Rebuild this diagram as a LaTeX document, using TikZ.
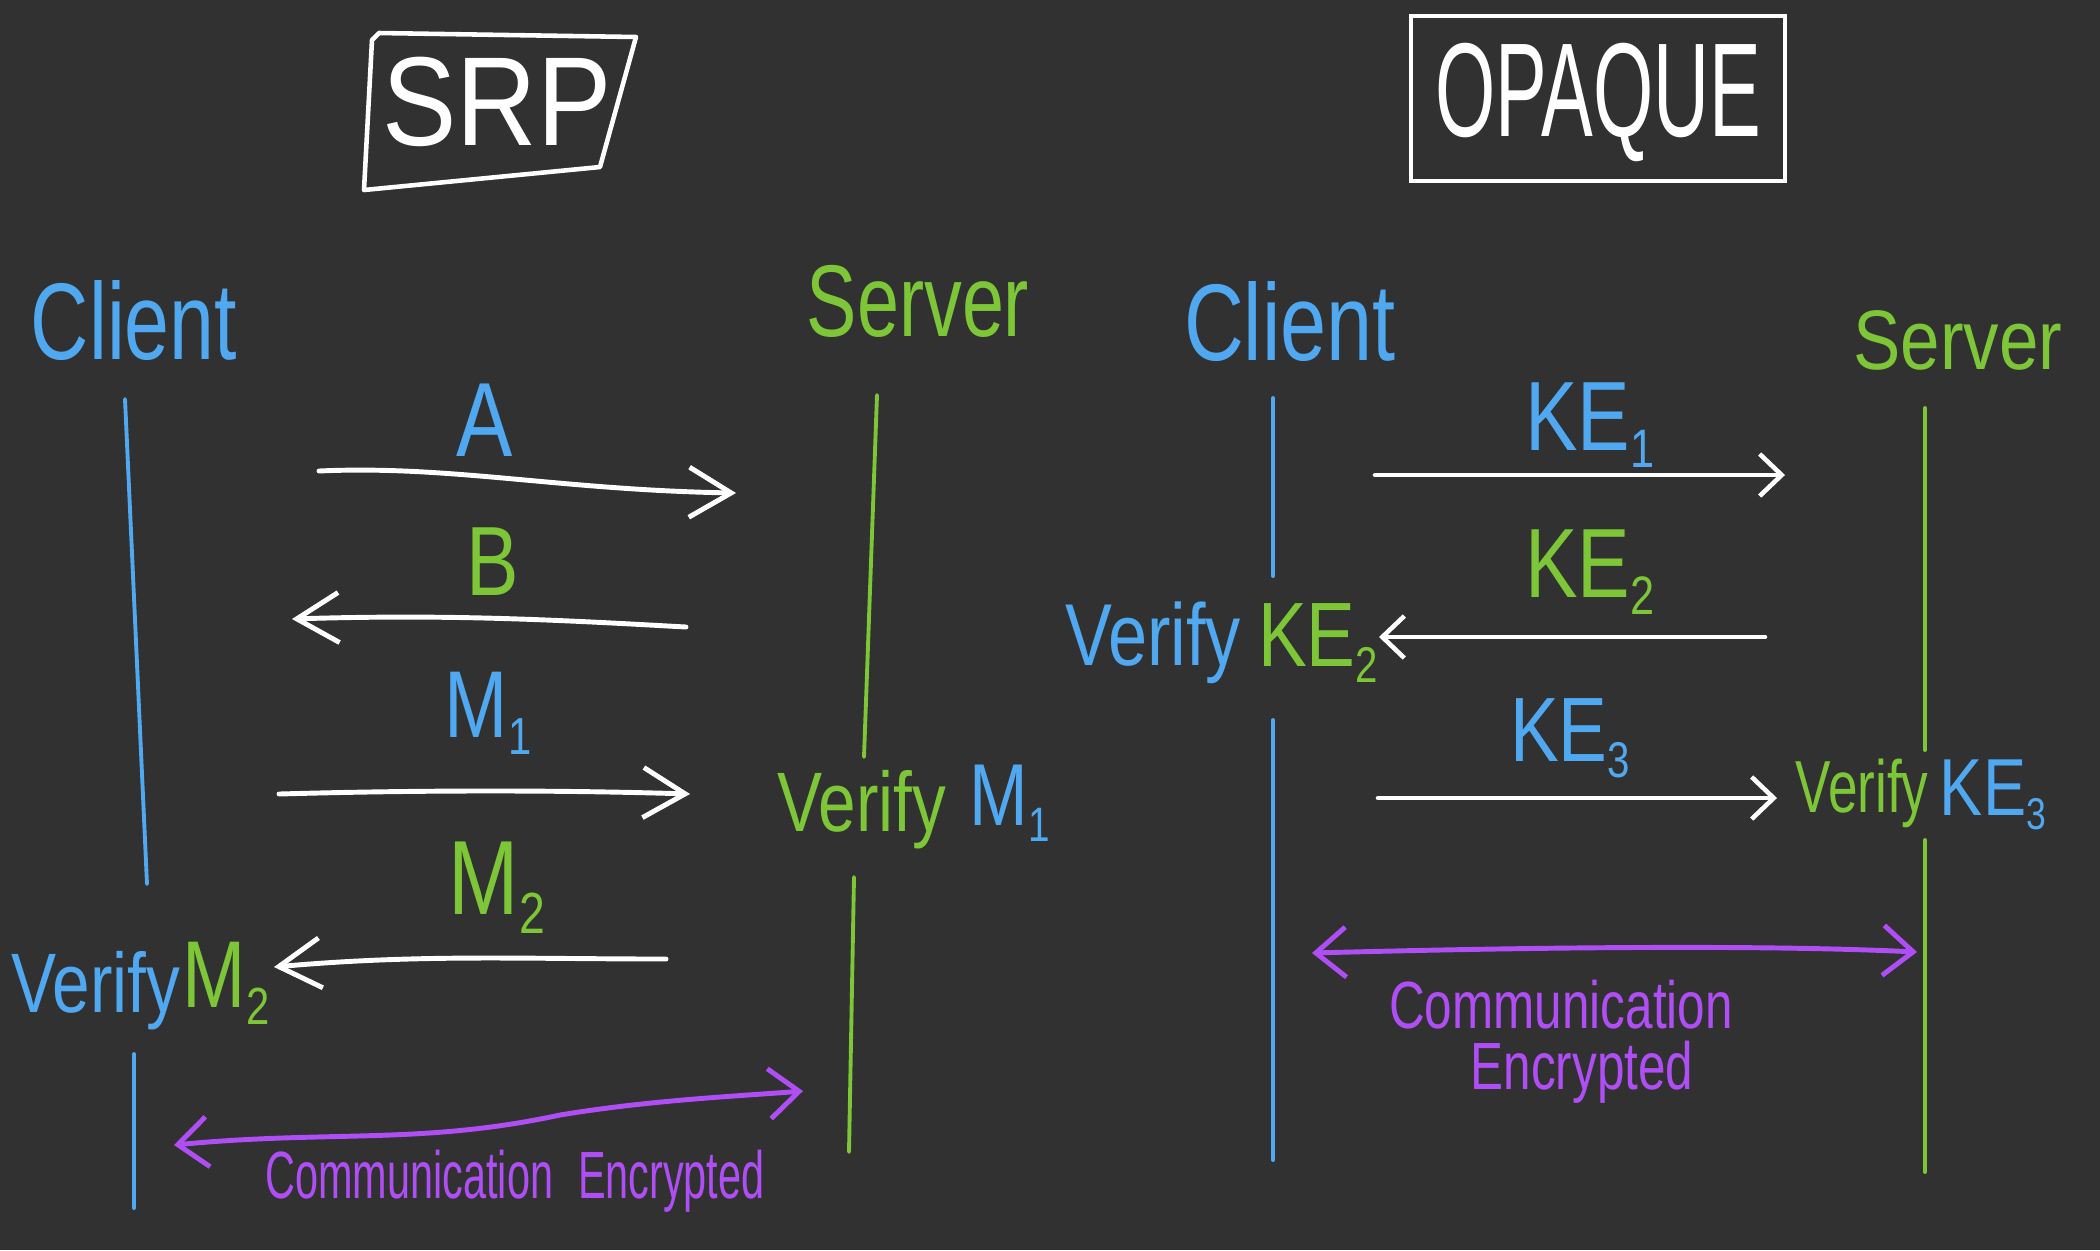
\documentclass[tikz,border=0pt]{standalone}
\usepackage{fontspec}
\setmainfont{Liberation Sans}
\usetikzlibrary{arrows.meta}
\definecolor{bg}{HTML}{313131}
\definecolor{cblue}{HTML}{4FA8F0}
\definecolor{cgreen}{HTML}{7DC637}
\definecolor{cpurple}{HTML}{B04EF5}
\newcommand\hw[2]{\scalebox{#1}[1]{#2}}
\newcommand\sbs[1]{\raisebox{-0.18em}{\fontsize{0.55em}{0.55em}\selectfont #1}}
\begin{document}
\begin{tikzpicture}[x=0.01cm,y=-0.01cm,
  lbl/.style={inner sep=0pt, anchor=center},
  fs/.style={font=\fontsize{#1}{#1}\selectfont},
  life/.style={line width=1.1pt, line cap=round},
  msg/.style={draw=white, line width=1.4pt, line cap=round, -{Straight Barb[length=0.42cm,width=0.5cm,line width=1.4pt]}},
  msgo/.style={draw=white, line width=1.3pt, line cap=round, -{Straight Barb[length=0.22cm,width=0.42cm,line width=1.3pt]}},
  enc/.style={draw=cpurple, line width=1.4pt, line cap=round, {Straight Barb[length=0.3cm,width=0.5cm,line width=1.4pt]}-{Straight Barb[length=0.3cm,width=0.5cm,line width=1.4pt]}}]
\fill[bg] (0,0) rectangle (2100,1250);
\useasboundingbox (0,0) rectangle (2100,1250);

% ---------- SRP ----------
\node[lbl, fs=36, white] (srp) at (497,102) {\hw{0.88}{SRP}};
\draw[white, line width=1.3pt, line join=round] (379,33) -- (636,37) -- (600,167) -- (364,190) -- (372,40) -- cycle;

\node[lbl, fs=31, cblue] (c1) at (134,321) {\hw{0.74}{Client}};
\node[lbl, fs=29, cgreen] (s1) at (918,301) {\hw{0.74}{Server}};

\coordinate (c1a) at (125,399); \coordinate (c1b) at (147,884);
\coordinate (c1c) at (134,1054); \coordinate (c1d) at (134,1208);
\draw[life, cblue] (c1a) -- (c1b);
\draw[life, cblue] (c1c) -- (c1d);
\coordinate (s1a) at (877,395); \coordinate (s1b) at (864,757);
\coordinate (s1c) at (854,877); \coordinate (s1d) at (849,1152);
\draw[life, cgreen] (s1a) -- (s1b);
\draw[life, cgreen] (s1c) -- (s1d);

\node[lbl, fs=30, cblue] (la) at (485,420) {\hw{0.8}{A}};
\coordinate (a1) at (319,471); \coordinate (a2) at (736,493);
\draw[msg] (a1) .. controls (450,465) and (560,490) .. (a2);

\node[lbl, fs=28, cgreen] (lb) at (493,562) {\hw{0.8}{B}};
\coordinate (b1) at (686,627); \coordinate (b2) at (292,619);
\draw[msg] (b1) .. controls (560,620) and (450,614) .. (b2);

\node[lbl, fs=27, cblue] (lm1) at (488,713) {\hw{0.8}{M\sbs{1}}};
\coordinate (m1a) at (279,794); \coordinate (m1b) at (690,794);
\draw[msg] (m1a) .. controls (420,790) and (560,790) .. (m1b);

\node[lbl, fs=30, cgreen] (lm2) at (497,888) {\hw{0.8}{M\sbs{2}}};
\coordinate (m2a) at (666,959); \coordinate (m2b) at (274,967);
\draw[msg] (m2a) .. controls (520,959) and (420,954) .. (m2b);

\node[lbl, fs=24, cgreen] (v1) at (862,810) {\hw{0.8}{Verify}};
\node[lbl, fs=25, cblue] (vm1) at (1010,803) {\hw{0.8}{M\sbs{1}}};
\node[lbl, fs=24, cblue] (v2) at (96,991) {\hw{0.8}{Verify}};
\node[lbl, fs=27, cgreen] (vm2) at (226,983) {\hw{0.8}{M\sbs{2}}};

\coordinate (e1) at (174,1145); \coordinate (e2) at (803,1091);
\draw[enc] (e1) .. controls (330,1130) and (420,1145) .. (560,1115) .. controls (650,1100) and (740,1096) .. (e2);
\node[lbl, fs=19, cpurple] (encl1) at (515,1181) {\hw{0.62}{Communication\hspace{0.6em}Encrypted}};

% ---------- OPAQUE ----------
\node[lbl, fs=38, white] (opq) at (1598,102) {\hw{0.58}{OPAQUE}};
\draw[white, line width=1.2pt] (1411,16) rectangle (1785,181);

\node[lbl, fs=31, cblue] (c2) at (1290,322) {\hw{0.76}{Client}};
\node[lbl, fs=24, cgreen] (s2) at (1958,340) {\hw{0.84}{Server}};

\coordinate (c2a) at (1273,398); \coordinate (c2b) at (1273,576);
\coordinate (c2c) at (1273,720); \coordinate (c2d) at (1273,1160);
\draw[life, cblue] (c2a) -- (c2b);
\draw[life, cblue] (c2c) -- (c2d);
\coordinate (s2a) at (1925,408); \coordinate (s2b) at (1925,750);
\coordinate (s2c) at (1925,840); \coordinate (s2d) at (1925,1172);
\draw[life, cgreen] (s2a) -- (s2b);
\draw[life, cgreen] (s2c) -- (s2d);

\node[lbl, fs=28, cblue] (ke1) at (1590,425) {\hw{0.8}{KE\sbs{1}}};
\coordinate (k1a) at (1375,475); \coordinate (k1b) at (1785,475);
\draw[msgo] (k1a) -- (k1b);

\node[lbl, fs=28, cgreen] (ke2) at (1590,572) {\hw{0.8}{KE\sbs{2}}};
\coordinate (k2a) at (1765,637); \coordinate (k2b) at (1379,637);
\draw[msgo] (k2a) -- (k2b);

\node[lbl, fs=26, cblue] (ke3) at (1570,738) {\hw{0.8}{KE\sbs{3}}};
\coordinate (k3a) at (1378,798); \coordinate (k3b) at (1777,798);
\draw[msgo] (k3a) -- (k3b);

\node[lbl, fs=25, cblue] (v3) at (1153,643) {\hw{0.8}{Verify}};
\node[lbl, fs=26, cgreen] (vk2) at (1318,643) {\hw{0.8}{KE\sbs{2}}};
\node[lbl, fs=21, cgreen] (v4) at (1862,793) {\hw{0.72}{Verify}};
\node[lbl, fs=23, cblue] (vk3) at (1993,795) {\hw{0.8}{KE\sbs{3}}};

\coordinate (f1) at (1312,953); \coordinate (f2) at (1917,952);
\draw[enc] (f1) .. controls (1500,948) and (1750,944) .. (f2);
\node[lbl, fs=19, cpurple] (encl2) at (1561,1005) {\hw{0.74}{Communication}};
\node[lbl, fs=19, cpurple] (encl3) at (1582,1072) {\hw{0.74}{Encrypted}};
\end{tikzpicture}
\end{document}
